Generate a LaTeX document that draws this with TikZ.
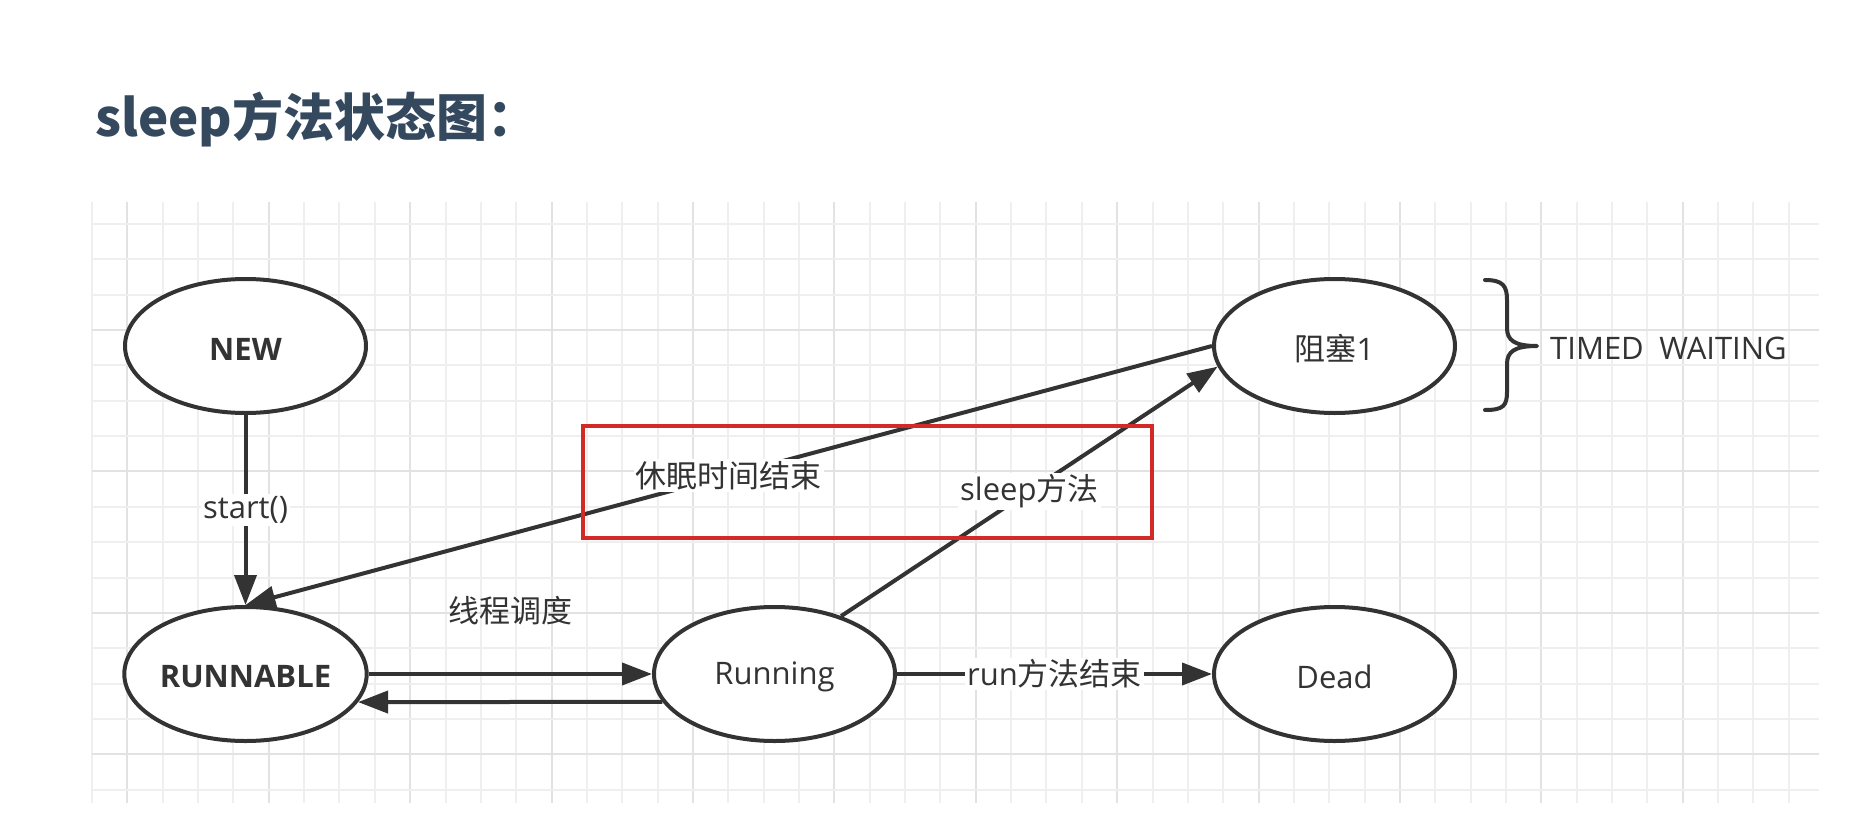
\documentclass[tikz,border=0pt]{standalone}
\usepackage{fontspec}
\setmainfont{Open Sans}
\newfontfamily\cjk{Noto Sans CJK SC}
\usetikzlibrary{arrows.meta,shapes.geometric}
\definecolor{ink}{HTML}{333333}
\definecolor{titlec}{HTML}{34495E}
\definecolor{gridminor}{HTML}{EFEFEF}
\definecolor{gridmajor}{HTML}{E2E2E2}
\definecolor{redbox}{HTML}{D22B27}
\newcommand{\lowr}[1]{\raisebox{-3pt}[\height][\depth]{#1}}
\begin{document}
\begin{tikzpicture}[x=1pt,y=-1pt,
  state/.style={ellipse, draw=ink, line width=4pt, fill=white, minimum width=241pt, minimum height=134pt, inner sep=0pt, text=ink, font=\fontsize{31}{37}\selectfont},
  conn/.style={draw=ink, line width=4pt, -{Triangle[length=30pt,width=22pt]}},
  lbl/.style={fill=white, text=ink, inner sep=2pt, font=\fontsize{31}{37}\selectfont},
  freelbl/.style={text=ink, inner sep=0pt, font=\fontsize{31}{37}\selectfont},
]
\fill[white] (0,0) rectangle (1849,837);
\useasboundingbox (0,0) rectangle (1849,837);

% grid
\foreach \k in {0,...,48}{
  \pgfmathtruncatemacro\m{mod(\k,4)}
  \ifnum\m=1 \def\gc{gridmajor}\else\def\gc{gridminor}\fi
  \draw[\gc, line width=2pt] ({92+35.35*\k},202) -- ({92+35.35*\k},803);
}
\foreach \j in {0,...,16}{
  \pgfmathtruncatemacro\m{mod(\j,4)}
  \ifnum\m=3 \def\gc{gridmajor}\else\def\gc{gridminor}\fi
  \draw[\gc, line width=2pt] (92,{224+35.35*\j}) -- (1819,{224+35.35*\j});
}

% title
\node[anchor=base west, text=titlec, inner sep=0pt, font=\cjk\bfseries\fontsize{51}{60}\selectfont] (title) at (95,137) {sleep方法状态图：};

% states
\node[state, font=\bfseries\fontsize{31}{37}\selectfont] (new) at (245.5,346) {\lowr{NEW}};
\node[state, font=\bfseries\fontsize{31}{37}\selectfont] (runnable) at (245.5,674) {\lowr{RUNNABLE}};
\node[state] (running) at (774.5,674) {\lowr{Running}};
\node[state] (dead) at (1334.5,674) {\lowr{Dead}};
\node[state] (block) at (1334.5,346) {\lowr{{\cjk 阻塞}1}};

% connectors
\draw[conn] (new) -- node[lbl] {start()} (runnable);
\draw[conn] (runnable) -- node[freelbl, midway, yshift=63pt] {\cjk 线程调度} (running);
\draw[conn] (running.194) -- (runnable.346);
\draw[conn] (running) -- node[lbl] {run{\cjk 方法结束}} (dead);
\draw[conn] (block.west) -- node[lbl] {\cjk 休眠时间结束} (runnable.north);
\draw[conn] (running.41) -- node[lbl] {sleep{\cjk 方法}} (block.190);

% brace and its text
\draw[ink, line width=4pt, line cap=round, line join=round]
  (1485,280) .. controls (1503,280) and (1507,286) .. (1507,300)
  -- (1507,328) .. controls (1507,340) and (1514,346) .. (1537,346)
  .. controls (1514,346) and (1507,352) .. (1507,364)
  -- (1507,392) .. controls (1507,406) and (1503,410) .. (1485,410);
\node[freelbl, anchor=west] (tw) at (1550,348) {TIMED\hspace{0.5em}WAITING};

% red highlight box
\draw[redbox, line width=3.5pt] (583,426) rectangle (1152,538);
\end{tikzpicture}
\end{document}
